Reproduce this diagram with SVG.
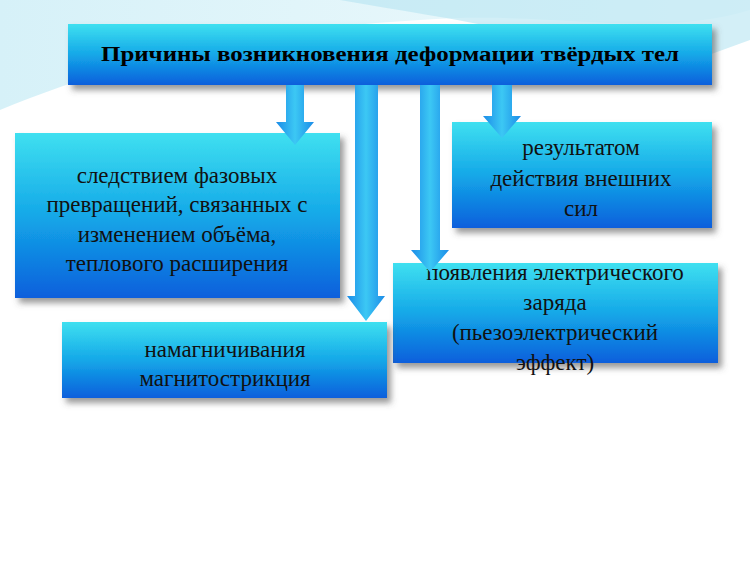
<svg xmlns="http://www.w3.org/2000/svg" width="750" height="562" viewBox="0 0 750 562">
<defs>
<linearGradient id="bx" x1="0" y1="0" x2="0" y2="1">
<stop offset="0" stop-color="#3fe0f0"/><stop offset="0.5" stop-color="#14a8e8"/><stop offset="1" stop-color="#0a5fdc"/>
</linearGradient>
<linearGradient id="ar" x1="0" y1="0" x2="1" y2="0">
<stop offset="0" stop-color="#1c8ce8"/><stop offset="0.5" stop-color="#3cc8f4"/><stop offset="1" stop-color="#1c8ce8"/>
</linearGradient>
<filter id="sh" x="-10%" y="-10%" width="130%" height="140%"><feDropShadow dx="4" dy="5" stdDeviation="3" flood-color="#555" flood-opacity="0.6"/></filter>
<linearGradient id="bg" x1="0" y1="0" x2="1" y2="0"><stop offset="0" stop-color="#d6f1f8"/><stop offset="1" stop-color="#f2fbfd"/></linearGradient>
</defs>
<style>
.b{fill:url(#bx);filter:url(#sh)}
.a{fill:url(#ar)}
.t{font-family:"Liberation Serif","DejaVu Serif",serif;font-size:23px;fill:#111;text-anchor:middle}
.tt{font-family:"Liberation Serif","DejaVu Serif",serif;font-size:20px;font-weight:bold;fill:#000;text-anchor:middle}
</style>
<rect width="750" height="562" fill="#fff"/>
<path d="M0,0 H750 V10 C650,40 560,10 420,20 C250,30 120,60 0,110 Z" fill="url(#bg)"/>
<path d="M340,0 C450,20 560,30 640,80 L750,40 V0 Z" fill="#b5e4f2" opacity="0.6"/>
<g id="title"><rect class="b" x="68" y="24" width="644" height="61"/>
<text class="tt" x="390" y="61" textLength="578" lengthAdjust="spacingAndGlyphs">Причины возникновения деформации твёрдых тел</text></g>
<g id="box1"><rect class="b" x="15" y="133" width="325" height="165"/>
<text class="t" x="177" y="183">следствием фазовых</text>
<text class="t" x="177" y="212">превращений, связанных с</text>
<text class="t" x="177" y="242">изменением объёма,</text>
<text class="t" x="177" y="271">теплового расширения</text></g>
<g id="box2"><rect class="b" x="452" y="122" width="260" height="106"/>
<text class="t" x="581" y="155">результатом</text>
<text class="t" x="581" y="186">действия внешних</text>
<text class="t" x="581" y="216">сил</text></g>
<g id="box3"><rect class="b" x="393" y="263" width="325" height="100"/>
<text class="t" x="555" y="280">появления электрического</text>
<text class="t" x="555" y="310">заряда</text>
<text class="t" x="555" y="340">(пьезоэлектрический</text>
<text class="t" x="555" y="370">эффект)</text></g>
<g id="box4"><rect class="b" x="62" y="322" width="325" height="76"/>
<text class="t" x="225" y="357">намагничивания</text>
<text class="t" x="225" y="386">магнитострикция</text></g>
<g id="connectors">
<path class="a" d="M286,85 H304 V122 H314 L295,145 L276,122 H286 Z"/>
<path class="a" d="M355,85 H378 V296 H385 L366,321 L347,296 H355 Z"/>
<path class="a" d="M420,85 H440 V250 H449 L430,272 L411,250 H420 Z"/>
<path class="a" d="M492,85 H512 V116 H521 L502,138 L483,116 H492 Z"/>
</g>
</svg>
